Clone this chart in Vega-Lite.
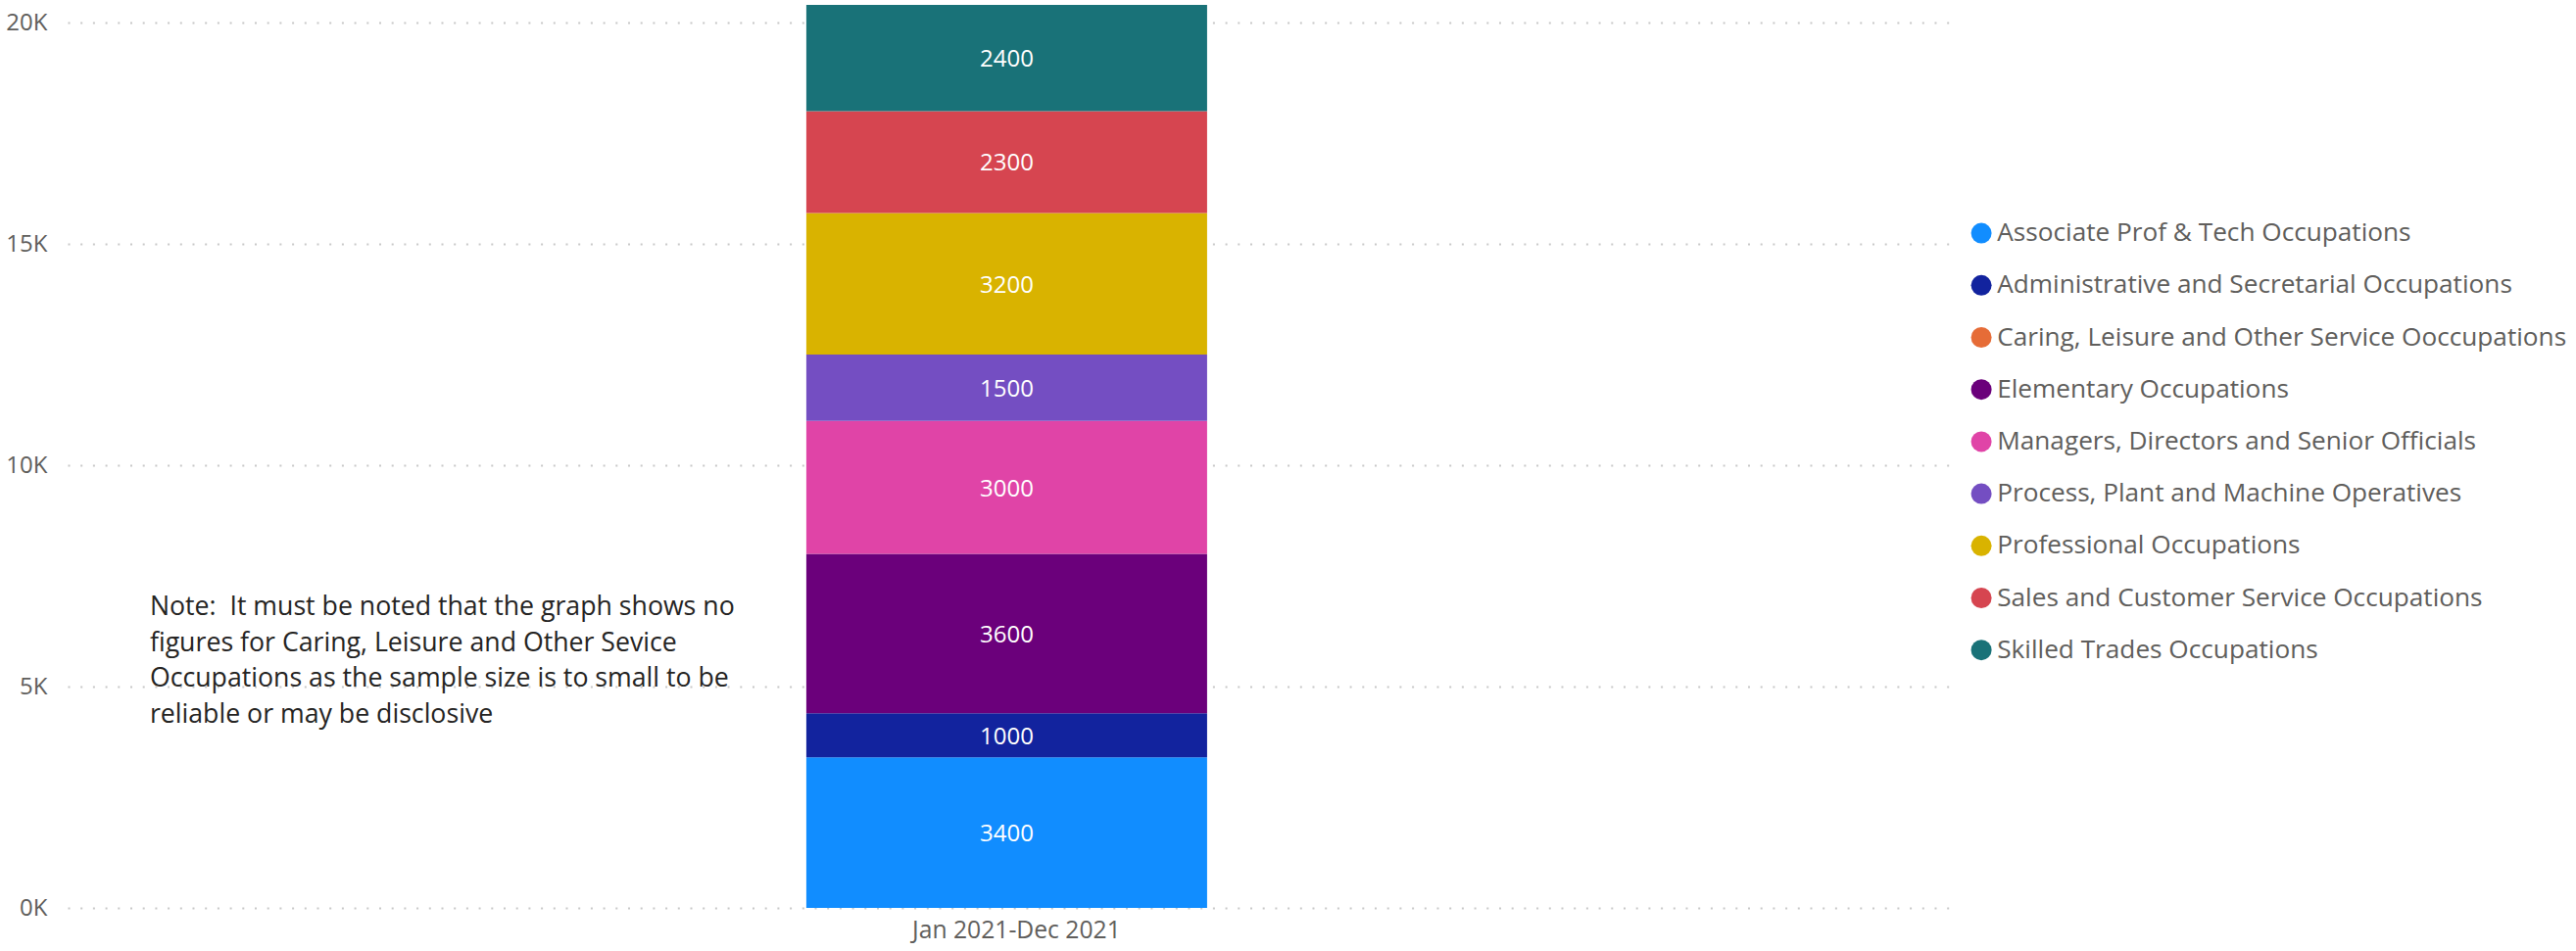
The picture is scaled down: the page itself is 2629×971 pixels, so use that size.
{
  "$schema": "https://vega.github.io/schema/vega-lite/v6.json",
  "width": 1929,
  "height": 922,
  "autosize": "none",
  "padding": {"left": 69, "top": 5, "right": 631, "bottom": 44},
  "background": "white",
  "config": {"view": {"stroke": null}, "font": "Open Sans"},
  "datasets": {
    "occ": [
      {"period": "Jan 2021-Dec 2021", "occupation": "Associate Prof & Tech Occupations", "value": 3400, "rank": 1},
      {"period": "Jan 2021-Dec 2021", "occupation": "Administrative and Secretarial Occupations", "value": 1000, "rank": 2},
      {"period": "Jan 2021-Dec 2021", "occupation": "Elementary Occupations", "value": 3600, "rank": 3},
      {"period": "Jan 2021-Dec 2021", "occupation": "Managers, Directors and Senior Officials", "value": 3000, "rank": 4},
      {"period": "Jan 2021-Dec 2021", "occupation": "Process, Plant and Machine Operatives", "value": 1500, "rank": 5},
      {"period": "Jan 2021-Dec 2021", "occupation": "Professional Occupations", "value": 3200, "rank": 6},
      {"period": "Jan 2021-Dec 2021", "occupation": "Sales and Customer Service Occupations", "value": 2300, "rank": 7},
      {"period": "Jan 2021-Dec 2021", "occupation": "Skilled Trades Occupations", "value": 2400, "rank": 8}
    ],
    "note": [
      {"pos": 0.0435, "level": 6790, "text": ["Note: \u00a0It must be noted that the graph shows no", "figures for Caring, Leisure and Other Sevice", "Occupations as the sample size is to small to be", "reliable or may be disclosive"]}
    ]
  },
  "layer": [
    {
      "data": {"name": "occ"},
      "encoding": {
        "x": {
          "field": "period", "type": "nominal", "title": null,
          "scale": {"paddingInner": 0.4618, "paddingOuter": 1, "align": 0.496},
          "axis": {"labelAngle": 0, "labelFontSize": 24.7, "labelColor": "#605E5C", "labelPadding": 10, "labelOffset": 10, "labelLimit": 600, "domain": false, "ticks": false}
        },
        "y": {
          "field": "value", "type": "quantitative", "stack": "zero", "title": null,
          "scale": {"domain": [0, 20400], "nice": false},
          "axis": {"values": [0, 5000, 10000, 15000, 20000], "labelExpr": "datum.value / 1000 + 'K'", "labelFontSize": 24, "labelColor": "#605E5C", "labelPadding": 21, "domain": false, "ticks": false, "grid": true, "gridColor": "#c8c8c8", "gridWidth": 2, "gridDash": [2, 10.7]}
        },
        "order": {"field": "rank", "type": "quantitative"}
      },
      "layer": [
        {
          "mark": {"type": "bar"},
          "encoding": {
            "color": {
              "field": "occupation", "type": "nominal", "title": null,
              "scale": {
                "domain": ["Associate Prof & Tech Occupations", "Administrative and Secretarial Occupations", "Caring, Leisure and Other Service Ooccupations", "Elementary Occupations", "Managers, Directors and Senior Officials", "Process, Plant and Machine Operatives", "Professional Occupations", "Sales and Customer Service Occupations", "Skilled Trades Occupations"],
                "range": ["#118DFF", "#12239E", "#E66C37", "#6B007B", "#E044A7", "#744EC2", "#D9B300", "#D64550", "#197278"]
              },
              "legend": {
                "orient": "none", "legendX": 1940, "legendY": 220, "padding": 0,
                "symbolType": "circle", "symbolSize": 441, "symbolStrokeWidth": 0, "symbolOpacity": 1,
                "labelFontSize": 26.2, "labelColor": "#605E5C", "labelOffset": 3, "rowPadding": 26.2, "labelLimit": 800
              }
            }
          }
        },
        {
          "mark": {"type": "text", "color": "white", "fontSize": 24, "dy": 2},
          "encoding": {
            "y": {"field": "value", "type": "quantitative", "stack": "zero", "bandPosition": 0.5},
            "detail": {"field": "occupation"},
            "text": {"field": "value", "type": "quantitative"}
          }
        }
      ]
    },
    {
      "data": {"name": "note"},
      "mark": {"type": "text", "align": "left", "baseline": "middle", "fontSize": 26.7, "lineHeight": 36.5, "color": "#252423"},
      "encoding": {
        "x": {"field": "pos", "type": "quantitative", "scale": {"domain": [0, 1], "nice": false, "zero": false}, "axis": null},
        "y": {"field": "level", "type": "quantitative"},
        "text": {"field": "text"}
      }
    }
  ],
  "resolve": {"scale": {"x": "independent"}, "axis": {"x": "independent"}}
}
